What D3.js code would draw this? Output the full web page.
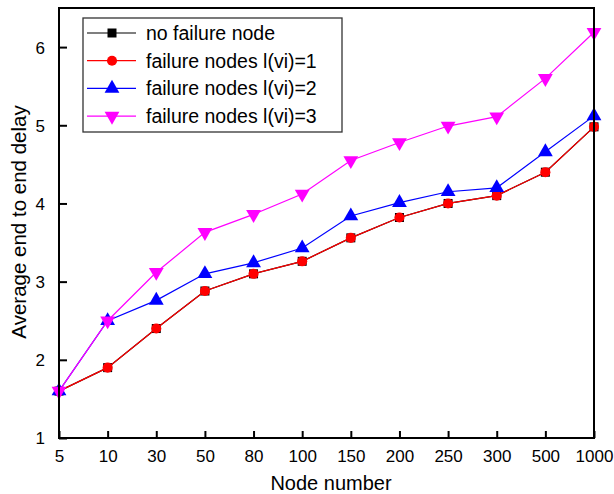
<!DOCTYPE html>
<html><head><meta charset="utf-8">
<script src="https://cdn.jsdelivr.net/npm/d3@7"></script>
<style>body{margin:0;background:#fff}svg{display:block;font-family:"Liberation Sans",Arial,sans-serif}</style>
</head><body><svg id="c" width="614" height="494"></svg>
<script>
const categories = ["5","10","30","50","80","100","150","200","250","300","500","1000"];
const noFailure = [1.6,1.9,2.4,2.88,3.1,3.26,3.56,3.82,4.0,4.1,4.4,4.98];
const failure1  = [1.6,1.9,2.4,2.88,3.1,3.26,3.56,3.82,4.0,4.1,4.4,4.98];
const failure2  = [1.6,2.5,2.76,3.1,3.24,3.43,3.84,4.01,4.15,4.2,4.66,5.12];
const failure3  = [1.6,2.5,3.12,3.63,3.86,4.12,4.55,4.78,4.99,5.11,5.6,6.19];
const yTicks = [1,2,3,4,5,6];
const seriesNames = ["no failure node","failure nodes l(vi)=1","failure nodes l(vi)=2","failure nodes l(vi)=3"];
const seriesColors = ["#000000","#ff0000","#0000ff","#ff00ff"];
const seriesShapes = ["square","circle","up","down"];
const seriesValues = [noFailure, failure1, failure2, failure3];

const svg = d3.select("#c");
const L=59, R=594, T=8, B=438;
const x = d3.scalePoint().domain(categories).range([L,R]);
const y = d3.scaleLinear().domain([1,6.5]).range([B,T]);

function sym(shape){
  if(shape==="square") return d3.symbol(d3.symbolSquare, 81)();
  if(shape==="circle") return d3.symbol(d3.symbolCircle, 80)();
  return d3.symbol(d3.symbolTriangle, 95)();
}
function rot(shape){ return shape==="down" ? " rotate(180)" : ""; }

const line = d3.line().x((d,i)=>x(categories[i])).y(d=>y(d));
seriesValues.forEach((vals,si)=>{
  const g = svg.append("g");
  g.append("path").attr("d", line(vals)).attr("fill","none")
    .attr("stroke", seriesColors[si]).attr("stroke-width",1.2);
  g.selectAll("path.m").data(vals).enter().append("path").attr("class","m")
    .attr("d", sym(seriesShapes[si]))
    .attr("transform",(d,i)=>`translate(${x(categories[i])},${y(d)})${rot(seriesShapes[si])}`)
    .attr("fill", seriesColors[si]);
});

svg.append("rect").attr("x",L).attr("y",T).attr("width",R-L).attr("height",B-T)
  .attr("fill","none").attr("stroke","#000").attr("stroke-width",2);

const ya = svg.append("g").attr("transform",`translate(${L},0)`)
  .call(d3.axisRight(y).tickValues(yTicks).tickSize(8).tickFormat(d3.format("d")));
ya.select(".domain").remove();
ya.selectAll("line").attr("stroke","#000").attr("stroke-width",2);
ya.selectAll("text").attr("x",-14).attr("text-anchor","end").attr("font-size",17).attr("fill","#000").attr("dy","0.35em");

const xa = svg.append("g").attr("transform",`translate(0,${B})`)
  .call(d3.axisTop(x).tickSize(7));
xa.select(".domain").remove();
xa.selectAll("line").attr("stroke","#000").attr("stroke-width",2);
xa.selectAll("text").attr("y",18).attr("dy","0.35em").attr("font-size",17).attr("fill","#000");

svg.append("text").attr("x",331).attr("y",490).attr("text-anchor","middle")
  .attr("font-size",20).text("Node number");
svg.append("text").attr("transform","translate(26,222) rotate(-90)").attr("text-anchor","middle")
  .attr("font-size",20.5).text("Average end to end delay");

const lg = svg.append("g");
lg.append("rect").attr("x",83).attr("y",18).attr("width",259).attr("height",114)
  .attr("fill","#fff").attr("stroke","#333").attr("stroke-width",1.3);
seriesNames.forEach((name,i)=>{
  const yy = 33 + i*27.7;
  lg.append("line").attr("x1",87).attr("x2",136).attr("y1",yy).attr("y2",yy)
    .attr("stroke",seriesColors[i]).attr("stroke-width",1.2);
  lg.append("path").attr("d",sym(seriesShapes[i]))
    .attr("transform",`translate(112,${yy})${rot(seriesShapes[i])}`).attr("fill",seriesColors[i]);
  lg.append("text").attr("x",146).attr("y",yy).attr("dy","0.35em").attr("font-size",19.5).text(name);
});
</script></body></html>
